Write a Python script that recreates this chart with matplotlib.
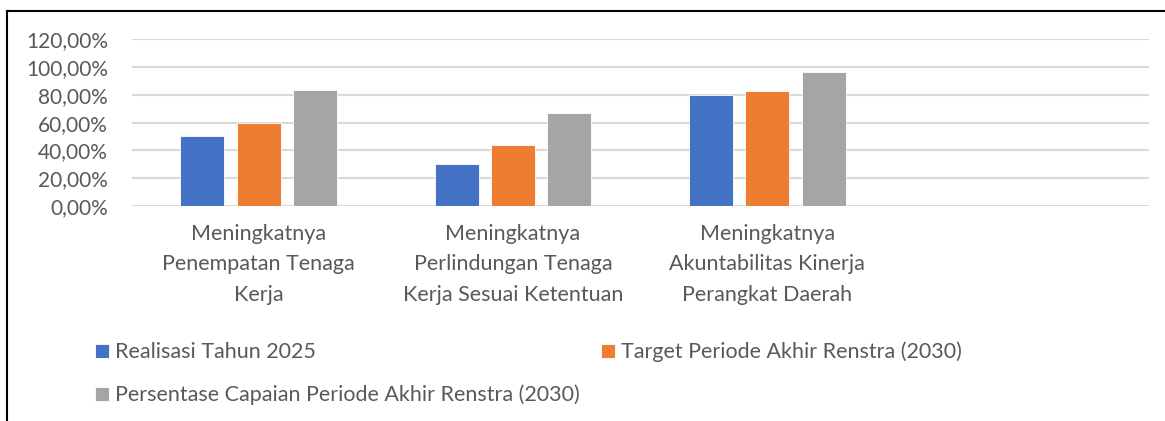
import numpy as np
import matplotlib
matplotlib.use("Agg")
import matplotlib.pyplot as plt
from matplotlib.lines import Line2D

categories = [
    "Meningkatnya\nPenempatan Tenaga\nKerja",
    "Meningkatnya\nPerlindungan Tenaga\nKerja Sesuai Ketentuan",
    "Meningkatnya\nAkuntabilitas Kinerja\nPerangkat Daerah",
]
series_names = [
    "Realisasi Tahun 2025",
    "Target Periode Akhir Renstra (2030)",
    "Persentase Capaian Periode Akhir Renstra (2030)",
]
realisasi = [50.0, 30.0, 80.0]
target = [60.0, 44.0, 83.0]
persentase = [83.3, 67.2, 96.5]
yticks = [0, 20, 40, 60, 80, 100, 120]

colors = ["#4472C4", "#ED7D31", "#A5A5A5"]
text_color = "#595959"
plt.rcParams["font.family"] = ["Lato", "DejaVu Sans"]

fig = plt.figure(figsize=(11.65, 4.21), dpi=100)
ax = fig.add_axes([0.113, 0.5114, 0.873, 0.3948])

x = np.arange(len(categories))
width = 0.173
step = 0.2215
bars = []
for i, (vals, name) in enumerate(zip([realisasi, target, persentase], series_names)):
    b = ax.bar(x + (i - 1) * step, vals, width, color=colors[i], label=name,
               edgecolor="white", linewidth=0.6, zorder=3)
    bars.append(b)

# Excel leaves room for an empty fourth category
ax.set_xlim(-0.5, 3.5)
ax.set_ylim(0, 120)
ax.set_yticks(yticks)
ax.set_yticklabels([f"{v:.2f}%".replace(".", ",") for v in yticks])
ax.set_xticks(x)
ax.set_xticklabels(categories, linespacing=1.67, fontsize=15.5)
ax.tick_params(axis="both", length=0, colors=text_color)
ax.tick_params(axis="y", labelsize=15, pad=17)
ax.tick_params(axis="x", pad=13)
ax.grid(axis="y", color="#D9D9D9", linewidth=1.5, zorder=0)
for s in ax.spines.values():
    s.set_visible(False)

# legend in Excel order: row 1 two items, row 2 one item
handles = [bars[0], bars[2], bars[1]]
labels = [series_names[0], series_names[2], series_names[1]]
leg = fig.legend(handles, labels, ncol=2, loc="upper left",
                 bbox_to_anchor=(0.072, 0.214), frameon=False,
                 fontsize=15.5, labelcolor=text_color,
                 handlelength=0.65, handleheight=0.65, handletextpad=0.28,
                 columnspacing=1.0, labelspacing=1.05, borderpad=0)

# outer frame (top and left edges visible in the crop)
fig.add_artist(Line2D([0.006, 0.006], [0, 0.974], transform=fig.transFigure,
                      color="black", linewidth=1.5))
fig.add_artist(Line2D([0.006, 1.0], [0.974, 0.974], transform=fig.transFigure,
                      color="black", linewidth=1.5))

fig.savefig("out.png", dpi=100)
